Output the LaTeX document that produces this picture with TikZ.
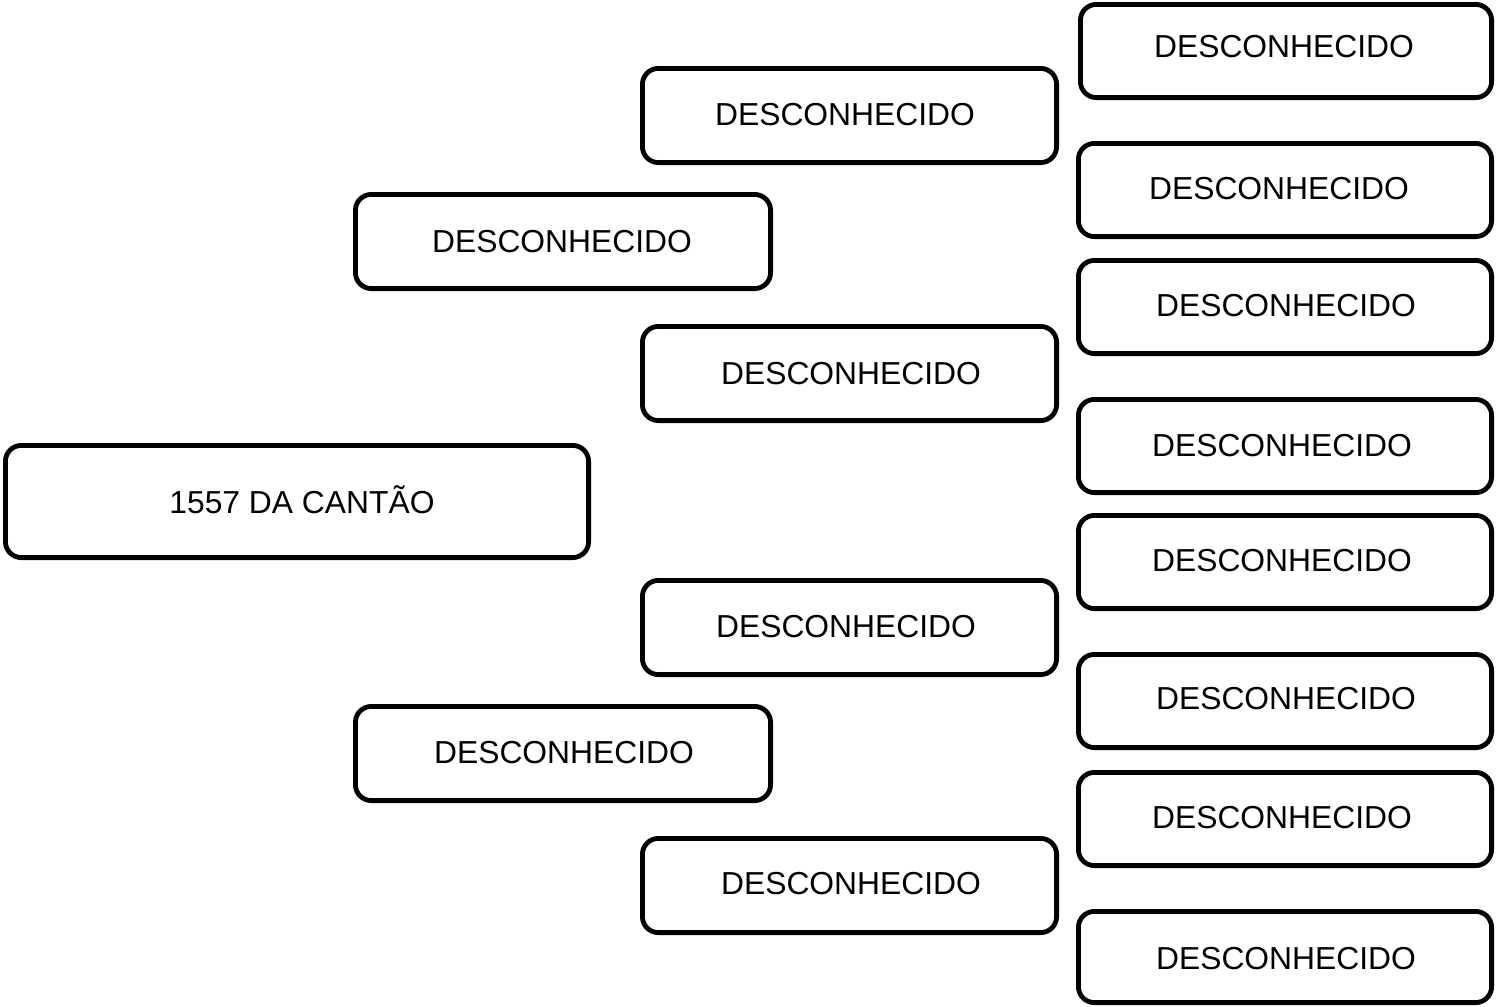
\documentclass[tikz,border=0pt]{standalone}
\usepackage{fontspec}
\setmainfont{Liberation Sans}
\begin{document}
\begin{tikzpicture}[x=0.5pt,y=-0.5pt,
  box/.style={draw=black, line width=2.4pt, rounded corners=8pt, fill=white, inner sep=0pt, minimum height=47.1pt},
  lbl/.style={font=\fontsize{15.9pt}{18pt}\selectfont, inner sep=0pt, text height=11.4pt, text depth=0pt, anchor=center}]
\useasboundingbox (0,0) rectangle (1496,1007);
% root
\node[box, minimum width=291.6pt, minimum height=56.1pt] (r) at (297,501.5) {};
\node[lbl] (rt) at (302,502) {1557 DA CANTÃO};
% generation 1
\node[box, minimum width=207.6pt] (a1) at (563,241.5) {};
\node[box, minimum width=207.6pt] (a2) at (563,753.5) {};
\node[lbl] (a1t) at (562,241) {DESCONHECIDO};
\node[lbl] (a2t) at (564,752) {DESCONHECIDO};
% generation 2
\node[box, minimum width=207.1pt] (b1) at (849.5,115.5) {};
\node[box, minimum width=207.1pt] (b2) at (849.5,373.5) {};
\node[box, minimum width=207.1pt] (b3) at (849.5,627.5) {};
\node[box, minimum width=207.1pt] (b4) at (849.5,885.5) {};
\node[lbl] (b1t) at (845,114) {DESCONHECIDO};
\node[lbl] (b2t) at (851,373) {DESCONHECIDO};
\node[lbl] (b3t) at (846,626) {DESCONHECIDO};
\node[lbl] (b4t) at (851,883) {DESCONHECIDO};
% generation 3
\node[box, minimum width=205.6pt, minimum height=46.6pt] (c1) at (1286,51) {};
\node[box, minimum width=206.6pt, minimum height=46.6pt] (c2) at (1285,190) {};
\node[box, minimum width=206.6pt, minimum height=46.6pt] (c3) at (1285,307) {};
\node[box, minimum width=206.6pt, minimum height=46.6pt] (c4) at (1285,446) {};
\node[box, minimum width=206.6pt, minimum height=46.6pt] (c5) at (1285,562) {};
\node[box, minimum width=206.6pt, minimum height=46.6pt] (c6) at (1285,701) {};
\node[box, minimum width=206.6pt, minimum height=46.6pt] (c7) at (1285,819) {};
\node[box, minimum width=206.6pt, minimum height=45.6pt] (c8) at (1285,957) {};
\node[lbl] (c1t) at (1284,46) {DESCONHECIDO};
\node[lbl] (c2t) at (1279,188) {DESCONHECIDO};
\node[lbl] (c3t) at (1286,305) {DESCONHECIDO};
\node[lbl] (c4t) at (1282,445) {DESCONHECIDO};
\node[lbl] (c5t) at (1282,560) {DESCONHECIDO};
\node[lbl] (c6t) at (1286,698) {DESCONHECIDO};
\node[lbl] (c7t) at (1282,817) {DESCONHECIDO};
\node[lbl] (c8t) at (1286,958) {DESCONHECIDO};
\end{tikzpicture}
\end{document}
